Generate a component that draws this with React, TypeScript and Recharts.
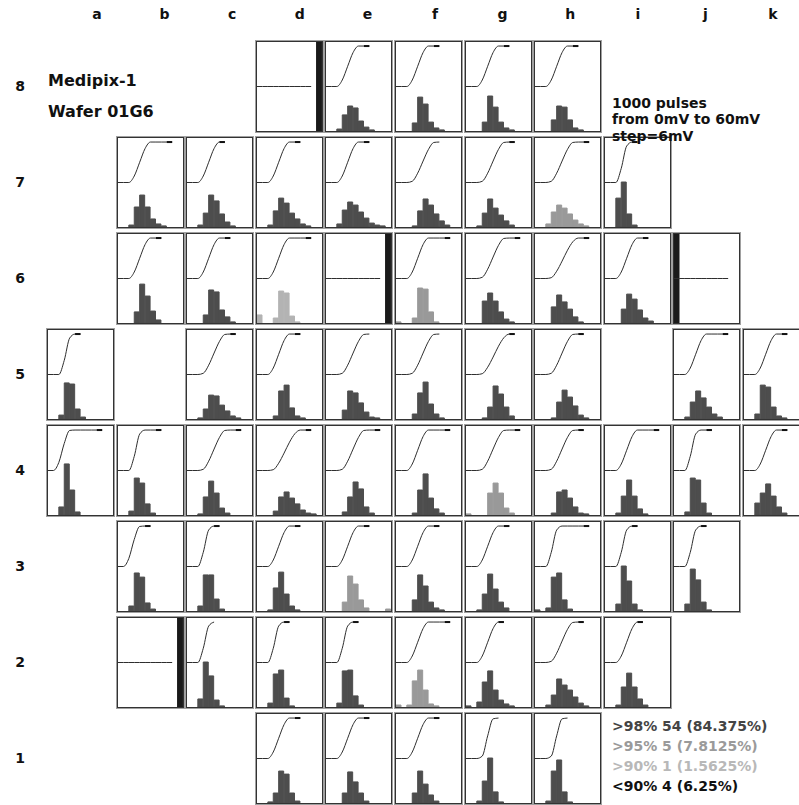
import React from 'react';
import { ComposedChart, Bar, Line, XAxis, YAxis } from 'recharts';

// ---------- labels ----------
const COLUMNS = ['a', 'b', 'c', 'd', 'e', 'f', 'g', 'h', 'i', 'j', 'k'];
const ROWS = [8, 7, 6, 5, 4, 3, 2, 1];
const TITLE_LINES = ['Medipix-1', 'Wafer 01G6'];
const INFO_LINES = ['1000 pulses', 'from 0mV to 60mV', 'step=6mV'];
const LEGEND_LABELS = ['>98% 54 (84.375%)', '>95% 5 (7.8125%)', '>90% 1 (1.5625%)', '<90% 4 (6.25%)'];
const LEGEND_GRADES = ['A', 'B', 'C', 'D'];

// x positions (mV) of the 12 histogram bins / 11 scan steps
const STEP_MV = [0, 6, 12, 18, 24, 30, 36, 42, 48, 54, 60, 66];

// S-curve shapes (counts of 1000 pulses per scan step)
const CURVE_FLAT = [0, 0, 0, 0, 0, 0, 0, 0, 0, 0, 0];
const CURVE_EARLY = [0, 0, 200, 670, 990, 1000, 1000, 1000, 1000, 1000, 1000];
const CURVE_STEEP = [0, 0, 0, 350, 900, 1000, 1000, 1000, 1000, 1000, 1000];
const CURVE_STEEP_LATE = [0, 0, 0, 60, 560, 980, 1000, 1000, 1000, 1000, 1000];
const CURVE_MID = [0, 0, 0, 160, 500, 840, 1000, 1000, 1000, 1000, 1000];
const CURVE_LATE = [0, 0, 0, 30, 230, 530, 820, 990, 1000, 1000, 1000];
const CURVE_GENTLE = [0, 0, 0, 20, 180, 430, 700, 910, 1000, 1000, 1000];

const HIST_DEAD_HIGH = [0, 0, 0, 0, 0, 0, 0, 0, 0, 0, 0, 4096];
const HIST_DEAD_LOW = [4096, 0, 0, 0, 0, 0, 0, 0, 0, 0, 0, 0];

type Grade = 'A' | 'B' | 'C' | 'D';
type CellSpec = { col: string; grade: Grade; curve: number[]; last: number; hist: number[] };

const ROW_8: CellSpec[] = [
  { col: 'd', grade: 'D', curve: CURVE_FLAT, last: 10, hist: HIST_DEAD_HIGH },
  { col: 'e', grade: 'A', curve: CURVE_MID, last: 8, hist: [0, 0, 90, 740, 1150, 1060, 460, 180, 50, 0, 0, 0] },
  { col: 'f', grade: 'A', curve: CURVE_MID, last: 8, hist: [0, 0, 0, 370, 1560, 1240, 410, 140, 50, 0, 0, 0] },
  { col: 'g', grade: 'A', curve: CURVE_MID, last: 8, hist: [0, 0, 0, 410, 1610, 1100, 410, 140, 50, 0, 0, 0] },
  { col: 'h', grade: 'A', curve: CURVE_MID, last: 8, hist: [0, 0, 0, 510, 1150, 1100, 510, 140, 50, 0, 0, 0] },
];

const ROW_7: CellSpec[] = [
  { col: 'b', grade: 'A', curve: CURVE_MID, last: 10, hist: [0, 0, 90, 920, 1470, 920, 370, 140, 50, 0, 0, 0] },
  { col: 'c', grade: 'A', curve: CURVE_MID, last: 7, hist: [0, 0, 90, 640, 1470, 1200, 600, 230, 50, 0, 0, 0] },
  { col: 'd', grade: 'A', curve: CURVE_MID, last: 8, hist: [0, 0, 90, 740, 1330, 1100, 640, 370, 140, 50, 0, 0] },
  { col: 'e', grade: 'A', curve: CURVE_MID, last: 8, hist: [0, 0, 140, 780, 1150, 1010, 690, 410, 180, 90, 50, 0] },
  { col: 'f', grade: 'A', curve: CURVE_LATE, last: 8, hist: [0, 0, 0, 50, 740, 1290, 1010, 600, 280, 90, 0, 0] },
  { col: 'g', grade: 'A', curve: CURVE_LATE, last: 9, hist: [0, 0, 50, 640, 1290, 870, 550, 280, 90, 0, 0, 0] },
  { col: 'h', grade: 'B', curve: CURVE_LATE, last: 10, hist: [0, 0, 140, 690, 1010, 870, 600, 320, 140, 50, 0, 0] },
  { col: 'i', grade: 'A', curve: CURVE_STEEP, last: 6, hist: [0, 0, 1330, 2070, 600, 90, 0, 0, 0, 0, 0, 0] },
];

const ROW_6: CellSpec[] = [
  { col: 'b', grade: 'A', curve: CURVE_MID, last: 8, hist: [0, 0, 0, 510, 1790, 1240, 550, 140, 0, 0, 0, 0] },
  { col: 'c', grade: 'A', curve: CURVE_MID, last: 8, hist: [0, 0, 0, 370, 1520, 1430, 600, 280, 50, 0, 0, 0] },
  { col: 'd', grade: 'C', curve: CURVE_MID, last: 10, hist: [370, 0, 0, 230, 1470, 1380, 320, 50, 0, 0, 0, 0] },
  { col: 'e', grade: 'D', curve: CURVE_FLAT, last: 10, hist: HIST_DEAD_HIGH },
  { col: 'f', grade: 'B', curve: CURVE_MID, last: 10, hist: [50, 0, 0, 230, 1610, 1560, 510, 50, 0, 0, 0, 0] },
  { col: 'g', grade: 'A', curve: CURVE_LATE, last: 10, hist: [0, 0, 0, 1010, 1380, 1010, 510, 180, 50, 0, 0, 0] },
  { col: 'h', grade: 'A', curve: CURVE_GENTLE, last: 10, hist: [0, 0, 0, 740, 1290, 970, 640, 280, 50, 0, 0, 0] },
  { col: 'i', grade: 'A', curve: CURVE_MID, last: 8, hist: [0, 0, 0, 640, 1330, 1100, 600, 230, 90, 0, 0, 0] },
  { col: 'j', grade: 'D', curve: CURVE_FLAT, last: 10, hist: HIST_DEAD_LOW },
];

const ROW_5: CellSpec[] = [
  { col: 'a', grade: 'A', curve: CURVE_STEEP, last: 6, hist: [0, 0, 180, 1660, 1610, 460, 90, 0, 0, 0, 0, 0] },
  { col: 'c', grade: 'A', curve: CURVE_LATE, last: 9, hist: [0, 0, 50, 460, 1100, 1060, 640, 370, 140, 50, 0, 0] },
  { col: 'd', grade: 'A', curve: CURVE_MID, last: 8, hist: [0, 0, 0, 140, 1290, 1560, 510, 140, 50, 0, 0, 0] },
  { col: 'e', grade: 'A', curve: CURVE_LATE, last: 8, hist: [0, 0, 0, 410, 1290, 1200, 740, 320, 90, 50, 0, 0] },
  { col: 'f', grade: 'A', curve: CURVE_LATE, last: 8, hist: [0, 0, 0, 230, 1200, 1700, 690, 230, 50, 0, 0, 0] },
  { col: 'g', grade: 'A', curve: CURVE_GENTLE, last: 9, hist: [0, 0, 0, 50, 550, 1520, 1150, 550, 140, 0, 0, 0] },
  { col: 'h', grade: 'A', curve: CURVE_LATE, last: 9, hist: [0, 0, 0, 50, 780, 1330, 1010, 600, 180, 50, 0, 0] },
  { col: 'j', grade: 'A', curve: CURVE_MID, last: 10, hist: [0, 0, 90, 780, 1290, 970, 550, 230, 90, 0, 0, 0] },
  { col: 'k', grade: 'A', curve: CURVE_MID, last: 8, hist: [0, 0, 230, 1560, 1470, 550, 140, 50, 0, 0, 0, 0] },
];

const ROW_4: CellSpec[] = [
  { col: 'a', grade: 'A', curve: CURVE_EARLY, last: 10, hist: [0, 0, 370, 2350, 1150, 140, 0, 0, 0, 0, 0, 0] },
  { col: 'b', grade: 'A', curve: CURVE_STEEP, last: 8, hist: [0, 0, 180, 1700, 1470, 510, 90, 0, 0, 0, 0, 0] },
  { col: 'c', grade: 'A', curve: CURVE_LATE, last: 10, hist: [0, 0, 50, 830, 1560, 1010, 320, 90, 0, 0, 0, 0] },
  { col: 'd', grade: 'A', curve: CURVE_GENTLE, last: 10, hist: [0, 0, 0, 180, 830, 1060, 780, 510, 230, 90, 50, 0] },
  { col: 'e', grade: 'A', curve: CURVE_LATE, last: 10, hist: [0, 0, 0, 140, 830, 1520, 1200, 370, 90, 0, 0, 0] },
  { col: 'f', grade: 'A', curve: CURVE_MID, last: 10, hist: [0, 0, 0, 90, 1150, 1890, 780, 280, 90, 0, 0, 0] },
  { col: 'g', grade: 'B', curve: CURVE_LATE, last: 10, hist: [50, 0, 0, 0, 1010, 1470, 1010, 320, 90, 0, 0, 0] },
  { col: 'h', grade: 'A', curve: CURVE_LATE, last: 9, hist: [0, 0, 0, 90, 1060, 1150, 780, 370, 90, 50, 0, 0] },
  { col: 'i', grade: 'A', curve: CURVE_MID, last: 10, hist: [0, 0, 90, 870, 1610, 870, 280, 50, 0, 0, 0, 0] },
  { col: 'j', grade: 'A', curve: CURVE_STEEP, last: 7, hist: [0, 0, 140, 1700, 1610, 550, 90, 0, 0, 0, 0, 0] },
  { col: 'k', grade: 'A', curve: CURVE_MID, last: 8, hist: [0, 0, 550, 1010, 1430, 870, 370, 90, 0, 0, 0, 0] },
];

const ROW_3: CellSpec[] = [
  { col: 'b', grade: 'A', curve: CURVE_EARLY, last: 6, hist: [0, 0, 230, 1750, 1560, 370, 90, 0, 0, 0, 0, 0] },
  { col: 'c', grade: 'A', curve: CURVE_STEEP, last: 6, hist: [0, 0, 230, 1660, 1660, 550, 90, 0, 0, 0, 0, 0] },
  { col: 'd', grade: 'A', curve: CURVE_MID, last: 8, hist: [0, 0, 50, 1060, 1790, 780, 230, 50, 0, 0, 0, 0] },
  { col: 'e', grade: 'B', curve: CURVE_MID, last: 8, hist: [0, 0, 0, 410, 1610, 1240, 510, 140, 0, 0, 0, 90] },
  { col: 'f', grade: 'A', curve: CURVE_MID, last: 8, hist: [0, 0, 0, 510, 1660, 1150, 410, 140, 50, 0, 0, 0] },
  { col: 'g', grade: 'A', curve: CURVE_MID, last: 8, hist: [0, 0, 50, 780, 1700, 1010, 410, 140, 0, 0, 0, 0] },
  { col: 'h', grade: 'A', curve: CURVE_STEEP, last: 10, hist: [50, 0, 140, 1560, 1750, 510, 90, 0, 0, 0, 0, 0] },
  { col: 'i', grade: 'A', curve: CURVE_STEEP, last: 6, hist: [0, 0, 320, 2070, 1380, 320, 50, 0, 0, 0, 0, 0] },
  { col: 'j', grade: 'A', curve: CURVE_STEEP, last: 6, hist: [0, 0, 320, 1930, 1430, 410, 50, 0, 0, 0, 0, 0] },
];

const ROW_2: CellSpec[] = [
  { col: 'b', grade: 'D', curve: CURVE_FLAT, last: 10, hist: HIST_DEAD_HIGH },
  { col: 'c', grade: 'A', curve: CURVE_STEEP, last: 5, hist: [0, 0, 370, 2070, 1430, 320, 50, 0, 0, 0, 0, 0] },
  { col: 'd', grade: 'A', curve: CURVE_STEEP, last: 6, hist: [0, 0, 180, 1520, 1700, 410, 50, 0, 0, 0, 0, 0] },
  { col: 'e', grade: 'A', curve: CURVE_STEEP, last: 6, hist: [0, 0, 180, 1660, 1700, 510, 90, 0, 0, 0, 0, 0] },
  { col: 'f', grade: 'B', curve: CURVE_MID, last: 10, hist: [90, 0, 90, 1200, 1700, 780, 140, 50, 0, 0, 0, 0] },
  { col: 'g', grade: 'A', curve: CURVE_MID, last: 7, hist: [50, 0, 230, 1150, 1660, 780, 320, 140, 50, 0, 0, 0] },
  { col: 'h', grade: 'A', curve: CURVE_LATE, last: 9, hist: [0, 0, 90, 550, 1290, 1010, 780, 460, 180, 50, 0, 0] },
  { col: 'i', grade: 'A', curve: CURVE_MID, last: 7, hist: [0, 0, 90, 920, 1560, 920, 370, 90, 0, 0, 0, 0] },
];

const ROW_1: CellSpec[] = [
  { col: 'd', grade: 'A', curve: CURVE_MID, last: 8, hist: [0, 0, 50, 460, 1470, 1330, 460, 90, 0, 0, 0, 0] },
  { col: 'e', grade: 'A', curve: CURVE_MID, last: 8, hist: [0, 0, 0, 460, 1430, 970, 460, 90, 0, 0, 0, 0] },
  { col: 'f', grade: 'A', curve: CURVE_MID, last: 8, hist: [0, 0, 0, 460, 1470, 870, 370, 90, 0, 0, 0, 0] },
  { col: 'g', grade: 'A', curve: CURVE_STEEP_LATE, last: 6, hist: [0, 0, 90, 1010, 2070, 510, 50, 0, 0, 0, 0, 0] },
  { col: 'h', grade: 'A', curve: CURVE_STEEP_LATE, last: 6, hist: [0, 0, 90, 1470, 1980, 510, 50, 0, 0, 0, 0, 0] },
];

const WAFER_ROWS: CellSpec[][] = [ROW_8, ROW_7, ROW_6, ROW_5, ROW_4, ROW_3, ROW_2, ROW_1];

// ---------- styling / layout ----------
const GRADE_FILL: Record<string, string> = { A: '#4d4d4d', B: '#999999', C: '#b3b3b3', D: '#1a1a1a' };
const GRADE_TEXT: Record<string, string> = { A: '#444444', B: '#9a9a9a', C: '#b8b8b8', D: '#111111' };
const GRID_LEFT = 47;
const GRID_STEP_X = 69.6;
const GRID_TOP = 41;
const GRID_STEP_Y = 96;
const CELL_W = 67;
const CELL_H = 91;
const FONT = '"DejaVu Sans", "Liberation Sans", sans-serif';

function buildRows(spec: CellSpec) {
  const n = Math.min(spec.last, spec.curve.length - 1);
  const dash = spec.curve[n] === 1000 && spec.curve[n - 1] === 1000;
  return STEP_MV.map((mv, i) => {
    const c = i <= n ? spec.curve[i] : null;
    const top = dash && (i === n || i === n - 1) ? c : null;
    return { mv, hist: spec.hist[i], curve: c, top };
  });
}

function WaferCell({ spec, left, top }: { spec: CellSpec; left: number; top: number }) {
  const data = buildRows(spec);
  const fill = GRADE_FILL[spec.grade];
  return (
    <div
      style={{
        position: 'absolute',
        left,
        top,
        width: CELL_W,
        height: CELL_H,
        border: '1px solid #333',
        boxShadow: '0 0 0 1px #a0a0a0',
        boxSizing: 'border-box',
        background: '#fff',
      }}
    >
      <ComposedChart
        width={CELL_W - 2}
        height={CELL_H - 2}
        data={data}
        margin={{ top: 0, right: 0, bottom: 0, left: 0 }}
        barCategoryGap={0}
        barGap={0}
      >
        <XAxis xAxisId="bin" dataKey="mv" type="category" hide />
        <XAxis xAxisId="scan" dataKey="mv" type="number" domain={[0, 72]} hide />
        <YAxis yAxisId="count" type="number" domain={[0, 4096]} hide />
        <YAxis yAxisId="curve" type="number" domain={[-1100, 1100]} hide />
        <Bar
          xAxisId="bin"
          yAxisId="count"
          dataKey="hist"
          fill={fill}
          stroke={fill}
          strokeWidth={1}
          isAnimationActive={false}
        />
        <Line
          xAxisId="scan"
          yAxisId="curve"
          dataKey="curve"
          type="monotone"
          stroke="#2e2e2e"
          strokeWidth={1}
          dot={false}
          activeDot={false}
          isAnimationActive={false}
        />
        <Line
          xAxisId="scan"
          yAxisId="curve"
          dataKey="top"
          type="linear"
          stroke="#111"
          strokeWidth={2}
          dot={false}
          activeDot={false}
          isAnimationActive={false}
        />
      </ComposedChart>
    </div>
  );
}

export default function App() {
  const cells: React.ReactNode[] = [];
  WAFER_ROWS.forEach((row, r) => {
    row.forEach((spec) => {
      const c = COLUMNS.indexOf(spec.col);
      cells.push(
        <WaferCell
          key={`${spec.col}${ROWS[r]}`}
          spec={spec}
          left={Math.round(GRID_LEFT + c * GRID_STEP_X)}
          top={GRID_TOP + r * GRID_STEP_Y}
        />
      );
    });
  });

  return (
    <div
      style={{
        position: 'absolute',
        left: 0,
        top: 0,
        width: 799,
        height: 805,
        overflow: 'hidden',
        background: '#fff',
      }}
    >
      {cells}
      <svg
        width={799}
        height={805}
        style={{ position: 'absolute', left: 0, top: 0, pointerEvents: 'none' }}
        fontFamily={FONT}
        fontWeight="bold"
      >
        {COLUMNS.map((c, i) => (
          <text key={c} x={97 + i * 67.6} y={19} fontSize={14} textAnchor="middle" fill="#111">
            {c}
          </text>
        ))}
        {ROWS.map((r, i) => (
          <text key={r} x={20} y={GRID_TOP + i * GRID_STEP_Y + 50} fontSize={14} textAnchor="middle" fill="#111">
            {r}
          </text>
        ))}
        {TITLE_LINES.map((t, i) => (
          <text key={t} x={48} y={86 + i * 31} fontSize={16} fill="#111">
            {t}
          </text>
        ))}
        {INFO_LINES.map((t, i) => (
          <text key={t} x={612} y={108 + i * 16.3} fontSize={14} fill="#111">
            {t}
          </text>
        ))}
        {LEGEND_LABELS.map((t, i) => (
          <text key={t} x={612} y={731 + i * 20} fontSize={14} fill={GRADE_TEXT[LEGEND_GRADES[i]]}>
            {t}
          </text>
        ))}
      </svg>
    </div>
  );
}
